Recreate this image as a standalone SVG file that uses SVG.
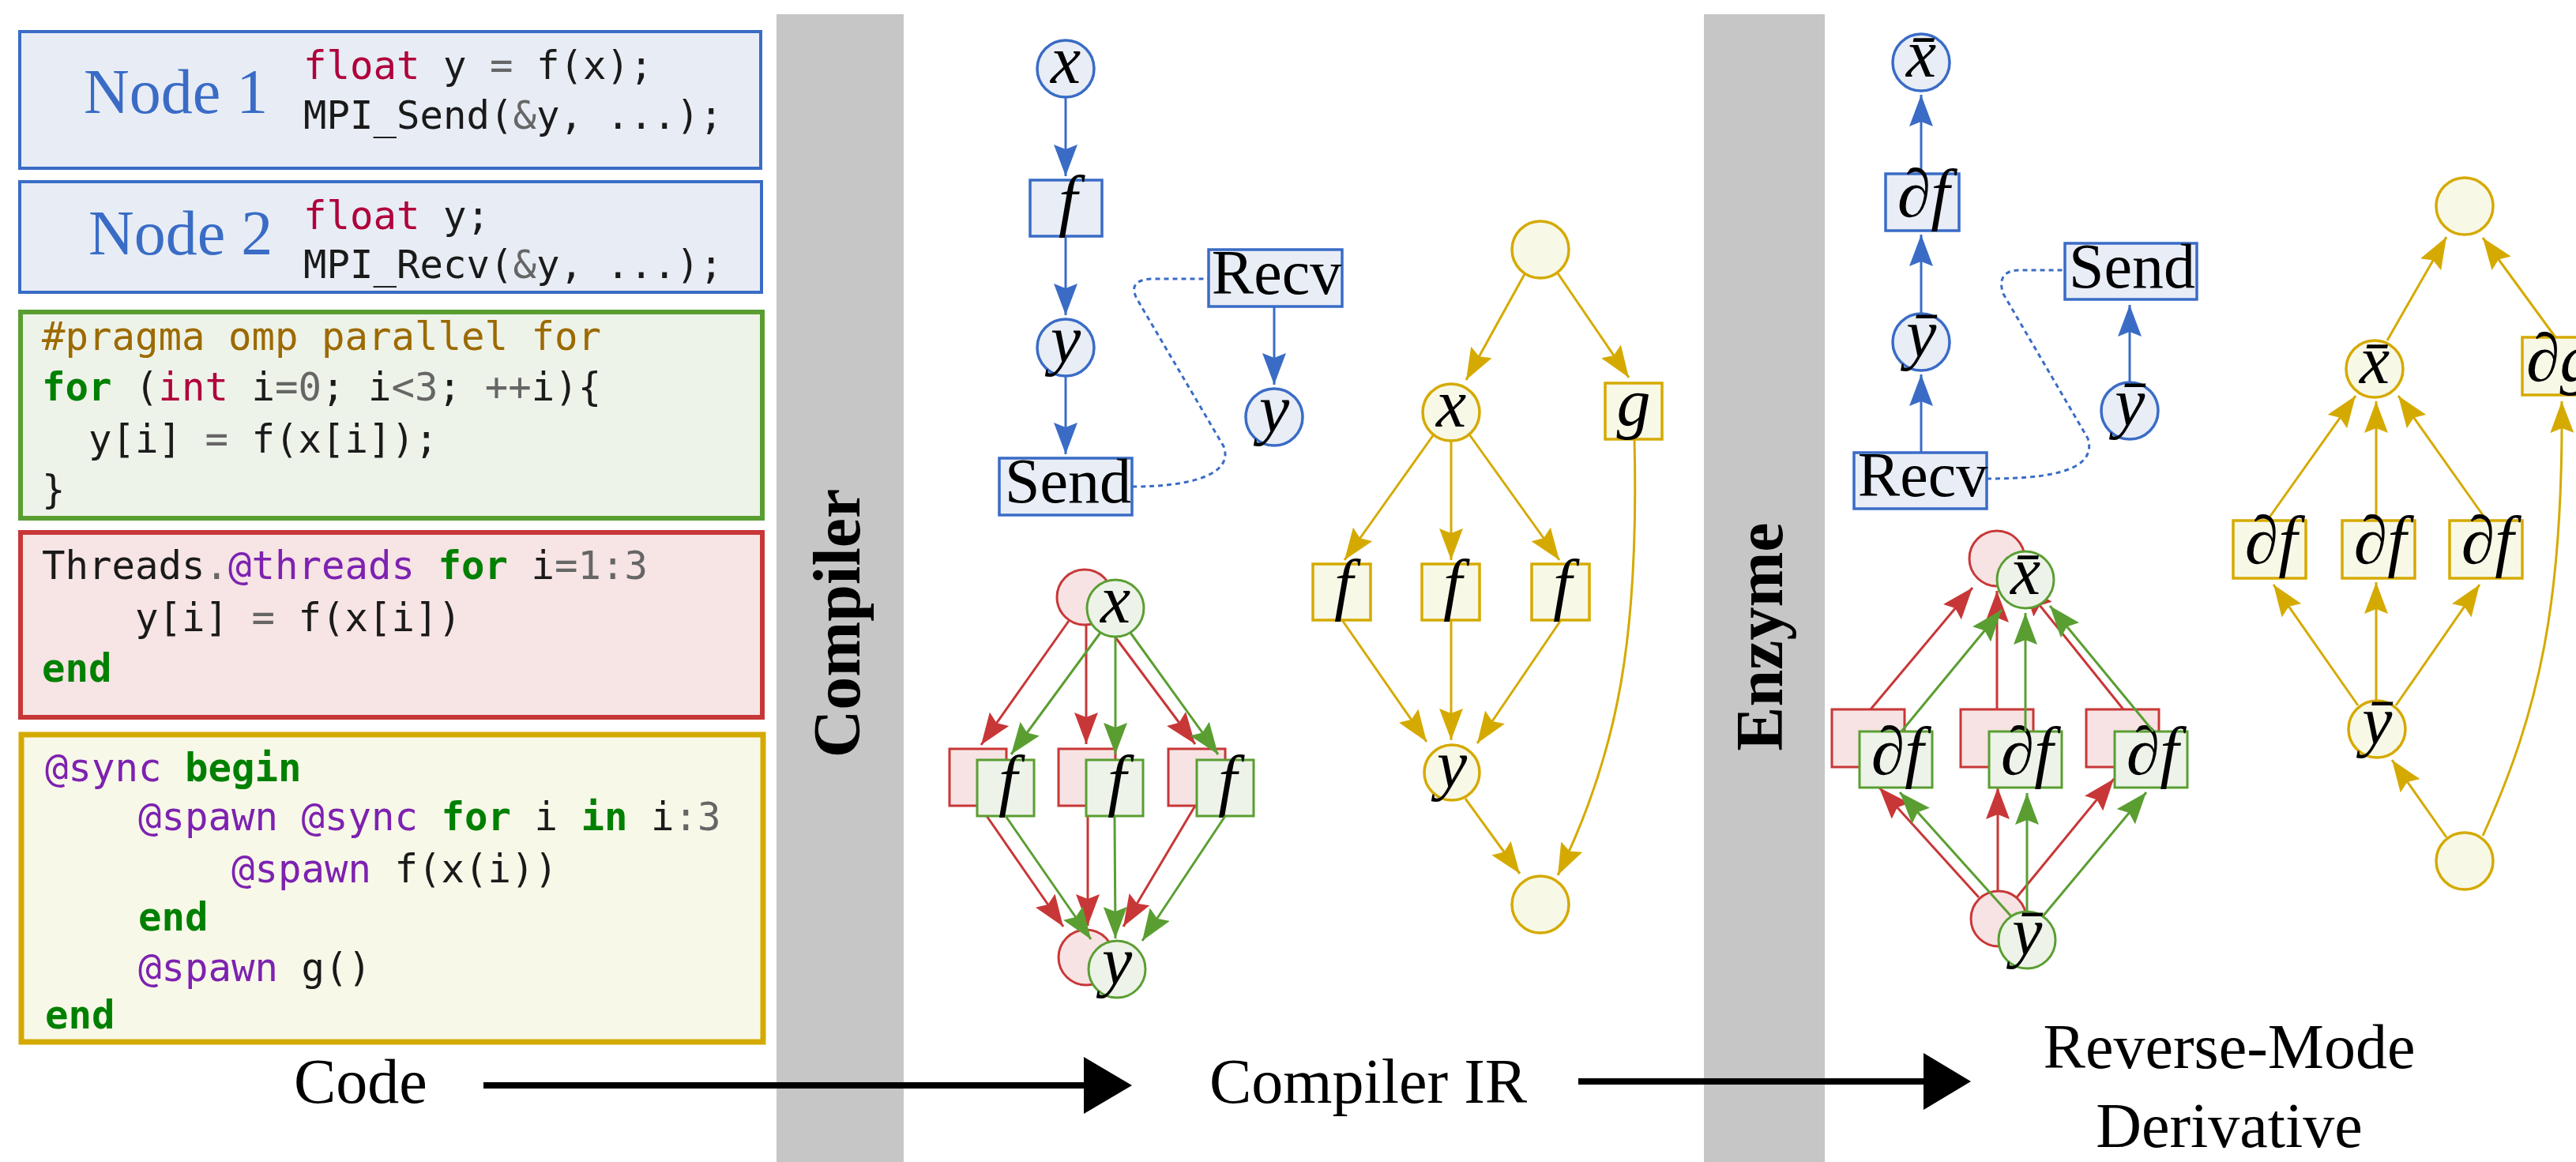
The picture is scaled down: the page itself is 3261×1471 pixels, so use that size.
<svg xmlns="http://www.w3.org/2000/svg" width="3261" height="1471" viewBox="0 0 3261 1471">
<style>
.code{font-family:"DejaVu Sans Mono","Liberation Mono",monospace;font-size:49px;fill:#1a1a1a;white-space:pre}
.kw{fill:#008000;font-weight:bold}
.k1{fill:#b0003c}
.op{fill:#666666}
.pp{fill:#9c6a00}
.at{fill:#7d22b0}
.nl{font-family:"Liberation Serif",serif;font-size:80px;fill:#3a6cc6}
.cap{font-family:"Liberation Serif",serif;font-size:80px;fill:#000}
.bar{fill:#c6c6c6}
.bt{font-family:"Liberation Serif",serif;font-weight:bold;font-size:84px;fill:#000;text-anchor:middle}
.m{font-family:"Liberation Serif","DejaVu Serif",serif;font-style:italic;font-size:86px;fill:#000;text-anchor:middle}
.ms{font-family:"Liberation Serif","DejaVu Serif",serif;font-style:italic;font-size:86px;fill:#000;text-anchor:start}
.u{font-family:"Liberation Serif",serif;font-size:80px;fill:#000;text-anchor:middle}
.b{fill:#e8edf6;stroke:#3a6cc6;stroke-width:3.5}
.y{fill:#f8f8e7;stroke:#d5aa00;stroke-width:3.5}
.r{fill:#f7e3e3;stroke:#c83737;stroke-width:3}
.g{fill:#edf3e8;stroke:#5a9e32;stroke-width:3}
.eb{stroke:#3a6cc6;stroke-width:3;fill:none;marker-end:url(#ab)}
.ey{stroke:#d5aa00;stroke-width:3;fill:none;marker-end:url(#ay)}
.er{stroke:#c83737;stroke-width:3;fill:none;marker-end:url(#ar)}
.eg{stroke:#5a9e32;stroke-width:3;fill:none;marker-end:url(#ag)}
.dot{stroke:#3a6cc6;stroke-width:3;fill:none;stroke-dasharray:6 5}
</style>
<defs>
<marker id="ab" markerUnits="userSpaceOnUse" markerWidth="40" markerHeight="30" refX="40" refY="15" orient="auto"><path d="M0,0 L40,15 L0,30 L6,15 z" fill="#3a6cc6"/></marker>
<marker id="ay" markerUnits="userSpaceOnUse" markerWidth="40" markerHeight="30" refX="40" refY="15" orient="auto"><path d="M0,0 L40,15 L0,30 L6,15 z" fill="#d5aa00"/></marker>
<marker id="ar" markerUnits="userSpaceOnUse" markerWidth="40" markerHeight="30" refX="40" refY="15" orient="auto"><path d="M0,0 L40,15 L0,30 L6,15 z" fill="#c83737"/></marker>
<marker id="ag" markerUnits="userSpaceOnUse" markerWidth="40" markerHeight="30" refX="40" refY="15" orient="auto"><path d="M0,0 L40,15 L0,30 L6,15 z" fill="#5a9e32"/></marker>
</defs>
<rect width="3261" height="1471" fill="#ffffff"/>

<!-- code panels -->
<g id="code-node1">
<rect x="25" y="40" width="938" height="173" fill="#e8edf5" stroke="#3a6cc6" stroke-width="4"/>
<text class="nl" x="106" y="143">Node 1</text>
<text class="code" x="384" y="100"><tspan class="k1">float</tspan> y <tspan class="op">=</tspan> f(x);</text>
<text class="code" x="384" y="163">MPI_Send(<tspan class="op">&amp;</tspan>y, ...);</text>
</g>
<g id="code-node2">
<rect x="25" y="230" width="939" height="140" fill="#e8edf5" stroke="#3a6cc6" stroke-width="4"/>
<text class="nl" x="112" y="322">Node 2</text>
<text class="code" x="384" y="290"><tspan class="k1">float</tspan> y;</text>
<text class="code" x="384" y="352">MPI_Recv(<tspan class="op">&amp;</tspan>y, ...);</text>
</g>
<g id="code-openmp">
<rect x="26" y="395" width="939" height="261" fill="#eef3e9" stroke="#5a9e32" stroke-width="6"/>
<text class="code" x="53" y="443"><tspan class="pp">#pragma omp parallel for</tspan></text>
<text class="code" x="53" y="507"><tspan class="kw">for</tspan> (<tspan class="k1">int</tspan> i<tspan class="op">=0</tspan>; i<tspan class="op">&lt;3</tspan>; <tspan class="op">++</tspan>i){</text>
<text class="code" x="112" y="573">y[i] <tspan class="op">=</tspan> f(x[i]);</text>
<text class="code" x="53" y="637">}</text>
</g>
<g id="code-julia-threads">
<rect x="26" y="674" width="939" height="234" fill="#f7e4e4" stroke="#c83737" stroke-width="6"/>
<text class="code" x="53" y="733">Threads<tspan class="op">.</tspan><tspan class="at">@threads</tspan> <tspan class="kw">for</tspan> i<tspan class="op">=1:3</tspan></text>
<text class="code" x="171" y="799">y[i] <tspan class="op">=</tspan> f(x[i])</text>
<text class="code" x="53" y="863"><tspan class="kw">end</tspan></text>
</g>
<g id="code-julia-tasks">
<rect x="27" y="930" width="939" height="389" fill="#f8f8e8" stroke="#d5aa00" stroke-width="7"/>
<text class="code" x="57" y="989"><tspan class="at">@sync</tspan> <tspan class="kw">begin</tspan></text>
<text class="code" x="175" y="1051"><tspan class="at">@spawn @sync</tspan> <tspan class="kw">for</tspan> i <tspan class="kw">in</tspan> i<tspan class="op">:3</tspan></text>
<text class="code" x="293" y="1117"><tspan class="at">@spawn</tspan> f(x(i))</text>
<text class="code" x="175" y="1178"><tspan class="kw">end</tspan></text>
<text class="code" x="175" y="1242"><tspan class="at">@spawn</tspan> g()</text>
<text class="code" x="57" y="1302"><tspan class="kw">end</tspan></text>
</g>

<!-- bars -->
<g id="bar-compiler">
<rect class="bar" x="983" y="18" width="161" height="1453"/>
<text class="bt" transform="translate(1088,789) rotate(-90)">Compiler</text>
</g>
<g id="bar-enzyme">
<rect class="bar" x="2157" y="18" width="153" height="1453"/>
<text class="bt" transform="translate(2256,806) rotate(-90)">Enzyme</text>
</g>

<!-- bottom labels and flow arrows -->
<g id="label-code"><text class="cap" x="372" y="1396">Code</text></g>
<g id="label-ir"><text class="cap" x="1531" y="1396">Compiler IR</text></g>
<g id="label-rev"><text class="cap" x="2822" y="1352" text-anchor="middle">Reverse-Mode</text><text class="cap" x="2822" y="1452" text-anchor="middle">Derivative</text></g>
<g id="flow-arrows">
<line x1="612" y1="1374" x2="1380" y2="1374" stroke="#000" stroke-width="8"/>
<polygon points="1372,1338 1433,1374 1372,1410" fill="#000"/>
<line x1="1998" y1="1369" x2="2440" y2="1369" stroke="#000" stroke-width="8"/>
<polygon points="2435,1333 2495,1369 2435,1405" fill="#000"/>
</g>

<!-- ===== connectors ===== -->
<g id="connectors">
<!-- blue forward -->
<line class="eb" x1="1349" y1="123" x2="1349" y2="223"/>
<line class="eb" x1="1349" y1="299" x2="1349" y2="399"/>
<line class="eb" x1="1349" y1="476" x2="1349" y2="575"/>
<line class="eb" x1="1613" y1="388" x2="1613" y2="487"/>
<path class="dot" d="M1433,616 C1510,616 1562,600 1549,565 L1439,378 C1430,360 1440,353 1462,353 L1530,353"/>
<!-- yellow forward -->
<line class="ey" x1="1930" y1="347" x2="1856" y2="481"/>
<line class="ey" x1="1972" y1="346" x2="2062" y2="478"/>
<line class="ey" x1="1815" y1="550" x2="1702" y2="709"/>
<line class="ey" x1="1837" y1="558" x2="1837" y2="709"/>
<line class="ey" x1="1860" y1="550" x2="1974" y2="709"/>
<line class="ey" x1="1699" y1="785" x2="1806" y2="939"/>
<line class="ey" x1="1837" y1="785" x2="1837" y2="937"/>
<line class="ey" x1="1976" y1="785" x2="1870" y2="941"/>
<line class="ey" x1="1855" y1="1011" x2="1924" y2="1106"/>
<path class="ey" d="M2069,557 C2075,800 2050,950 1972,1108"/>
<!-- blue reverse -->
<line class="eb" x1="2432" y1="220" x2="2432" y2="120"/>
<line class="eb" x1="2432" y1="397" x2="2432" y2="297"/>
<line class="eb" x1="2432" y1="573" x2="2432" y2="474"/>
<line class="eb" x1="2696" y1="484" x2="2696" y2="386"/>
<path class="dot" d="M2515,606 C2580,606 2657,600 2643,555 L2536,372 C2529,352 2538,342 2556,342 L2614,342"/>
<!-- yellow reverse -->
<line class="ey" x1="3022" y1="431" x2="3097" y2="300"/>
<line class="ey" x1="3235" y1="427" x2="3143" y2="301"/>
<line class="ey" x1="2870" y1="659" x2="2982" y2="501"/>
<line class="ey" x1="3008" y1="659" x2="3008" y2="508"/>
<line class="ey" x1="3148" y1="659" x2="3036" y2="501"/>
<line class="ey" x1="2985" y1="893" x2="2878" y2="740"/>
<line class="ey" x1="3008" y1="887" x2="3008" y2="737"/>
<line class="ey" x1="3033" y1="893" x2="3139" y2="740"/>
<line class="ey" x1="3097" y1="1060" x2="3028" y2="962"/>
<path class="ey" d="M3143,1058 C3215,900 3245,760 3243,508"/>
</g>

<!-- ===== blue forward nodes ===== -->
<g id="b-x"><circle class="b" cx="1349" cy="87" r="36"/><text class="m" x="1349" y="105">x</text></g>
<g id="b-f"><rect class="b" x="1304" y="228" width="91" height="71"/><text class="m" x="1352" y="282">f</text></g>
<g id="b-y"><circle class="b" cx="1349" cy="440" r="36"/><text class="m" x="1349" y="458">y</text></g>
<g id="b-send"><rect class="b" x="1265" y="580" width="168" height="72"/><text class="u" x="1352" y="636">Send</text></g>
<g id="b-recv"><rect class="b" x="1530" y="316" width="169" height="72"/><text class="u" x="1616" y="372">Recv</text></g>
<g id="b-y2"><circle class="b" cx="1613" cy="528" r="36"/><text class="m" x="1613" y="546">y</text></g>

<!-- ===== yellow forward nodes ===== -->
<g id="y-top"><circle class="y" cx="1950" cy="316" r="36"/></g>
<g id="y-x"><circle class="y" cx="1837" cy="522" r="36"/><text class="m" x="1837" y="540">x</text></g>
<g id="y-g"><rect class="y" x="2032" y="485" width="72" height="71"/><text class="m" x="2068" y="538">g</text></g>
<g id="y-f1"><rect class="y" x="1662" y="714" width="73" height="71"/><text class="m" x="1701" y="768">f</text></g>
<g id="y-f2"><rect class="y" x="1800" y="714" width="73" height="71"/><text class="m" x="1839" y="768">f</text></g>
<g id="y-f3"><rect class="y" x="1939" y="714" width="73" height="71"/><text class="m" x="1978" y="768">f</text></g>
<g id="y-y"><circle class="y" cx="1838" cy="978" r="35"/><text class="m" x="1838" y="996">y</text></g>
<g id="y-bot"><circle class="y" cx="1950" cy="1145" r="36"/></g>

<!-- ===== red/green forward ===== -->
<g id="r-x"><circle class="r" cx="1373" cy="756" r="35"/></g>
<g id="r-f1"><rect class="r" x="1202" y="948" width="72" height="72"/></g>
<g id="r-f2"><rect class="r" x="1340" y="948" width="72" height="72"/></g>
<g id="r-f3"><rect class="r" x="1479" y="948" width="72" height="72"/></g>
<g id="r-y"><circle class="r" cx="1375" cy="1212" r="35"/></g>
<g id="connectors-red-fwd">
<line class="er" x1="1353" y1="786" x2="1242" y2="943"/>
<line class="er" x1="1375" y1="792" x2="1375" y2="942"/>
<line class="er" x1="1395" y1="784" x2="1513" y2="942"/>
<line class="er" x1="1240" y1="1020" x2="1346" y2="1173"/>
<line class="er" x1="1377" y1="1020" x2="1377" y2="1172"/>
<line class="er" x1="1513" y1="1020" x2="1422" y2="1173"/>
</g>
<g id="g-x"><circle class="g" cx="1412" cy="770" r="36"/><text class="m" x="1412" y="788">x</text></g>
<g id="g-f1"><rect class="g" x="1237" y="962" width="72" height="71"/><text class="m" x="1276" y="1016">f</text></g>
<g id="g-f2"><rect class="g" x="1375" y="962" width="72" height="71"/><text class="m" x="1414" y="1016">f</text></g>
<g id="g-f3"><rect class="g" x="1515" y="962" width="72" height="71"/><text class="m" x="1554" y="1016">f</text></g>
<g id="g-y"><circle class="g" cx="1414" cy="1227" r="36"/><text class="m" x="1414" y="1245">y</text></g>
<g id="connectors-green-fwd">
<line class="eg" x1="1393" y1="801" x2="1280" y2="955"/>
<line class="eg" x1="1412" y1="806" x2="1412" y2="955"/>
<line class="eg" x1="1431" y1="801" x2="1542" y2="955"/>
<line class="eg" x1="1273" y1="1033" x2="1381" y2="1189"/>
<line class="eg" x1="1411" y1="1033" x2="1412" y2="1188"/>
<line class="eg" x1="1551" y1="1033" x2="1446" y2="1191"/>
</g>

<!-- ===== blue reverse nodes ===== -->
<g id="rb-xbar"><circle class="b" cx="2432" cy="79" r="36"/><text class="m" x="2432" y="97">x̄</text></g>
<g id="rb-df"><rect class="b" x="2387" y="220" width="93" height="72"/><text class="m" x="2435" y="274">∂f</text></g>
<g id="rb-ybar"><circle class="b" cx="2432" cy="433" r="36"/><text class="m" x="2432" y="451">ȳ</text></g>
<g id="rb-recv"><rect class="b" x="2347" y="573" width="168" height="71"/><text class="u" x="2434" y="628">Recv</text></g>
<g id="rb-send"><rect class="b" x="2614" y="308" width="167" height="71"/><text class="u" x="2699" y="364">Send</text></g>
<g id="rb-ybar2"><circle class="b" cx="2696" cy="520" r="36"/><text class="m" x="2696" y="538">ȳ</text></g>

<!-- ===== yellow reverse nodes ===== -->
<g id="ry-top"><circle class="y" cx="3120" cy="261" r="36"/></g>
<g id="ry-xbar"><circle class="y" cx="3006" cy="467" r="36"/><text class="m" x="3006" y="485">x̄</text></g>
<g id="ry-dg"><rect class="y" x="3193" y="427" width="100" height="73"/><text class="ms" x="3198" y="482">∂g</text></g>
<g id="ry-df1"><rect class="y" x="2827" y="659" width="92" height="73"/><text class="m" x="2875" y="713">∂f</text></g>
<g id="ry-df2"><rect class="y" x="2965" y="659" width="92" height="73"/><text class="m" x="3013" y="713">∂f</text></g>
<g id="ry-df3"><rect class="y" x="3101" y="659" width="92" height="73"/><text class="m" x="3149" y="713">∂f</text></g>
<g id="ry-ybar"><circle class="y" cx="3009" cy="923" r="36"/><text class="m" x="3009" y="941">ȳ</text></g>
<g id="ry-bot"><circle class="y" cx="3120" cy="1090" r="36"/></g>

<!-- ===== red/green reverse ===== -->
<g id="rr-xbar"><circle class="r" cx="2528" cy="707" r="35"/></g>
<g id="rr-df1"><rect class="r" x="2319" y="898" width="92" height="73"/></g>
<g id="rr-df2"><rect class="r" x="2482" y="898" width="92" height="73"/></g>
<g id="rr-df3"><rect class="r" x="2641" y="898" width="92" height="73"/></g>
<g id="rr-ybar"><circle class="r" cx="2530" cy="1163" r="35"/></g>
<g id="connectors-red-rev">
<line class="er" x1="2368" y1="898" x2="2497" y2="744"/>
<line class="er" x1="2528" y1="898" x2="2528" y2="748"/>
<line class="er" x1="2688" y1="898" x2="2561" y2="740"/>
<line class="er" x1="2505" y1="1136" x2="2379" y2="997"/>
<line class="er" x1="2529" y1="1128" x2="2529" y2="997"/>
<line class="er" x1="2553" y1="1136" x2="2676" y2="986"/>
</g>
<g id="gr-xbar"><circle class="g" cx="2564" cy="734" r="36"/><text class="m" x="2564" y="752">x̄</text></g>
<g id="gr-df1"><rect class="g" x="2354" y="926" width="92" height="71"/><text class="m" x="2402" y="980">∂f</text></g>
<g id="gr-df2"><rect class="g" x="2518" y="926" width="92" height="71"/><text class="m" x="2566" y="980">∂f</text></g>
<g id="gr-df3"><rect class="g" x="2677" y="926" width="92" height="71"/><text class="m" x="2725" y="980">∂f</text></g>
<g id="gr-ybar"><circle class="g" cx="2566" cy="1190" r="36"/><text class="m" x="2566" y="1208">ȳ</text></g>
<g id="connectors-green-rev">
<line class="eg" x1="2407" y1="926" x2="2534" y2="772"/>
<line class="eg" x1="2564" y1="926" x2="2564" y2="776"/>
<line class="eg" x1="2726" y1="926" x2="2595" y2="767"/>
<line class="eg" x1="2546" y1="1160" x2="2405" y2="1003"/>
<line class="eg" x1="2566" y1="1154" x2="2566" y2="1004"/>
<line class="eg" x1="2586" y1="1160" x2="2717" y2="1003"/>
</g>
</svg>
